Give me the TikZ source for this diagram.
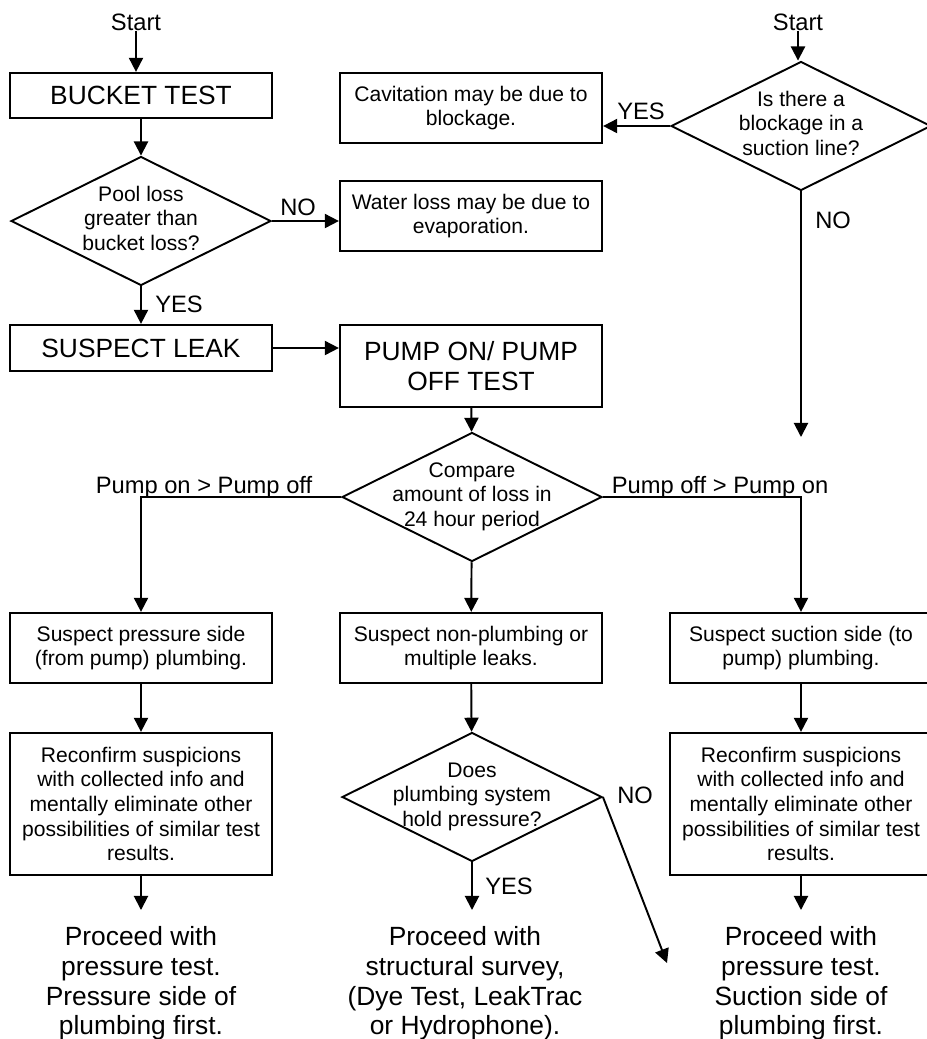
\documentclass[tikz,border=0pt]{standalone}
\usepackage{fontspec}
\setmainfont{Liberation Sans}
\usetikzlibrary{shapes.geometric,arrows.meta}
\newcommand{\qtext}[1]{\smash{\makebox[0pt]{\raisebox{-3pt}{\begin{tabular}{@{}c@{}}#1\end{tabular}}}}}
\tikzset{
  box/.style={draw, line width=1.3pt, minimum width=5.24cm, align=center,
    font=\fontsize{12}{14}\selectfont},
  bigbox/.style={box, font=\fontsize{15}{17}\selectfont},
  question/.style={draw, diamond, line width=1.1pt, inner sep=0pt,
    minimum width=5.2cm, minimum height=2.58cm, font=\fontsize{12}{14}\selectfont},
  lbl/.style={inner sep=0pt, font=\fontsize{13.5}{16}\selectfont},
  result/.style={align=center, inner xsep=0pt, inner ysep=9pt,
    font=\fontsize{15}{17}\selectfont},
  arr/.style={line width=1.1pt, -{Triangle[length=8pt,width=8pt]}}
}
\begin{document}
\begin{tikzpicture}[x=0.02cm,y=-0.02cm]
\useasboundingbox (0,0) rectangle (927,1039);
\node [lbl, anchor=base] (start1) at (136,30) {Start};
\node [lbl, anchor=base] (start2) at (798,30) {Start};
\node [bigbox, minimum height=0.9cm] (bucket) at (141,95.5) {BUCKET TEST};
\node [question] (pool) at (141,221) {\qtext{Pool loss\\greater than\\bucket loss?}};
\node [box, minimum height=1.4cm] (cav) at (471,108) {Cavitation may be due to\\blockage.};
\node [box, minimum height=1.4cm] (water) at (471,216) {Water loss may be due to\\evaporation.};
\node [question] (block) at (801,126) {\qtext{Is there a\\blockage in a\\suction line?}};
\node [bigbox, minimum height=0.92cm] (leak) at (141,348) {SUSPECT LEAK};
\node [bigbox, minimum height=1.64cm] (pump) at (471,366) {PUMP ON/ PUMP\\OFF TEST};
\node [question] (cmp) at (472,497) {\qtext{Compare\\amount of loss in\\24 hour period}};
\node [box, minimum height=1.4cm] (press) at (141,648) {Suspect pressure side\\(from pump) plumbing.};
\node [box, minimum height=1.4cm] (multi) at (471,648) {Suspect non-plumbing or\\multiple leaks.};
\node [box, minimum height=1.4cm] (suct) at (801,648) {Suspect suction side (to\\pump) plumbing.};
\node [box, minimum height=2.84cm] (recon1) at (141,804) {Reconfirm suspicions\\with collected info and\\mentally eliminate other\\possibilities of similar test\\results.};
\node [question] (hold) at (472,797) {\qtext{Does\\plumbing system\\hold pressure?}};
\node [box, minimum height=2.84cm] (recon2) at (801,804) {Reconfirm suspicions\\with collected info and\\mentally eliminate other\\possibilities of similar test\\results.};
\node [result, anchor=north] (fin1) at (141,910) {Proceed with\\pressure test.\\Pressure side of\\plumbing first.};
\node [result, anchor=north] (fin2) at (465,910) {Proceed with\\structural survey,\\(Dye Test, LeakTrac\\or Hydrophone).};
\node [result, anchor=north] (fin3) at (801,910) {Proceed with\\pressure test.\\Suction side of\\plumbing first.};
\coordinate (noend1) at (801,437);
\coordinate (noend2) at (667,963);
\draw [arr] (start1) -- (start1 |- bucket.north);
\draw [arr] (start2) -- (start2 |- block.north);
\draw [arr] (bucket) -- (pool);
\draw [arr] (pool.east) -- (pool.east -| water.west);
\node [lbl, anchor=base west] (no1) at (280,215) {NO};
\draw [arr] (pool) -- (leak);
\node [lbl, anchor=base west] (yes1) at (155,312) {YES};
\draw [arr] (block.west) -- (block.west -| cav.east);
\node [lbl, anchor=base west] (yes2) at (617,119) {YES};
\draw [arr] (block.south) -- (noend1);
\node [lbl, anchor=base west] (no2) at (815,228) {NO};
\draw [arr] (leak.east) -- (leak.east -| pump.west);
\draw [arr] (pump) -- (cmp);
\draw [arr] (cmp.west) -| (press.north);
\draw [arr] (cmp.east) -| (suct.north);
\draw [arr] (cmp) -- (multi);
\node [lbl, anchor=base] (pon) at (204,493) {Pump on > Pump off};
\node [lbl, anchor=base] (poff) at (720,493) {Pump off > Pump on};
\draw [arr] (press) -- (recon1);
\draw [arr] (suct) -- (recon2);
\draw [arr] (multi) -- (hold);
\draw [arr] (recon1) -- (fin1);
\draw [arr] (recon2) -- (fin3);
\draw [arr] (hold.south) -- (hold.south |- fin2.north);
\node [lbl, anchor=base west] (yes3) at (485,894) {YES};
\draw [arr] (hold.east) -- (noend2);
\node [lbl, anchor=base west] (no3) at (617,803) {NO};
\end{tikzpicture}
\end{document}
